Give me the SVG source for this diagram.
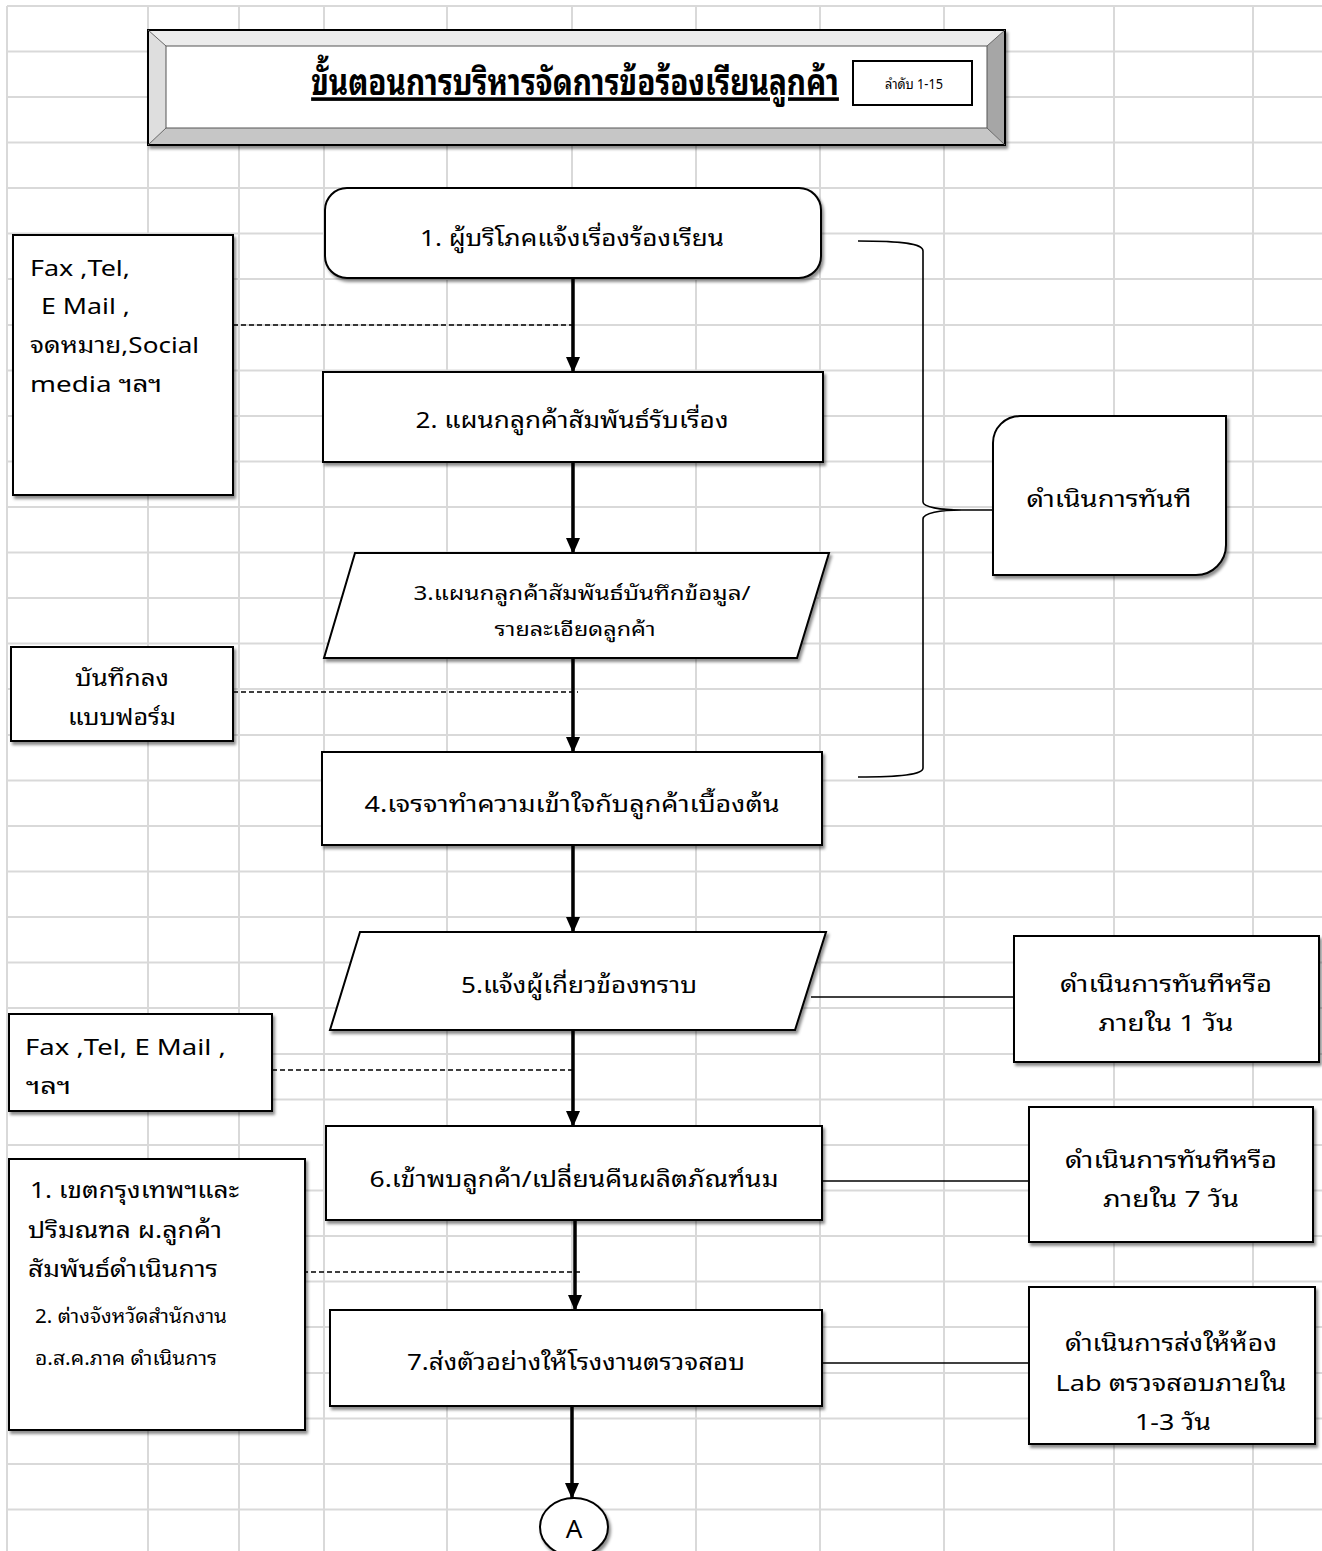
<svg xmlns="http://www.w3.org/2000/svg" width="1322" height="1551" viewBox="0 0 1322 1551">
<style>
  .grid line { stroke: #d9d9d9; stroke-width: 2; }
  .box { fill: #ffffff; stroke: #000000; stroke-width: 2; filter: url(#shadow); }
  .t { font-family: 'Noto Sans Thai Looped', Loma, Garuda, Waree, Tahoma, 'Noto Sans Thai', 'Noto Sans', 'DejaVu Sans', sans-serif; font-size: 22px; fill: #000000; }
  .c { text-anchor: middle; }
  .flow { stroke: #000000; stroke-width: 3.5; fill: none; marker-end: url(#arrow); }
  .dash { stroke: #000000; stroke-width: 1.3; stroke-dasharray: 5 3; fill: none; }
  .thin { stroke: #000000; stroke-width: 1.6; fill: none; }
</style>
<defs>
  <filter id="shadow" x="-10%" y="-10%" width="130%" height="130%">
    <feDropShadow dx="2" dy="3" stdDeviation="1.6" flood-color="#000000" flood-opacity="0.45"/>
  </filter>
  <marker id="arrow" markerUnits="userSpaceOnUse" markerWidth="16" markerHeight="14" viewBox="0 0 16 14" refX="15" refY="7" orient="auto">
    <path d="M0,0 L16,7 L0,14 Z" fill="#000000"/>
  </marker>
</defs>
<rect x="0" y="0" width="1322" height="1551" fill="#ffffff"/>
<g class="grid">
  <line x1="7" y1="6" x2="7" y2="1551"/>
  <line x1="148" y1="6" x2="148" y2="1551"/>
  <line x1="239" y1="6" x2="239" y2="1551"/>
  <line x1="324" y1="6" x2="324" y2="1551"/>
  <line x1="447" y1="6" x2="447" y2="1551"/>
  <line x1="572" y1="6" x2="572" y2="1551"/>
  <line x1="696" y1="6" x2="696" y2="1551"/>
  <line x1="820" y1="6" x2="820" y2="1551"/>
  <line x1="944" y1="6" x2="944" y2="1551"/>
  <line x1="1114" y1="6" x2="1114" y2="1551"/>
  <line x1="1253" y1="6" x2="1253" y2="1551"/>
  <line x1="7" y1="6" x2="1322" y2="6"/>
  <line x1="7" y1="51.5" x2="1322" y2="51.5"/>
  <line x1="7" y1="97" x2="1322" y2="97"/>
  <line x1="7" y1="142.5" x2="1322" y2="142.5"/>
  <line x1="7" y1="188" x2="1322" y2="188"/>
  <line x1="7" y1="233.5" x2="1322" y2="233.5"/>
  <line x1="7" y1="279" x2="1322" y2="279"/>
  <line x1="7" y1="325" x2="1322" y2="325"/>
  <line x1="7" y1="370.5" x2="1322" y2="370.5"/>
  <line x1="7" y1="416" x2="1322" y2="416"/>
  <line x1="7" y1="461.5" x2="1322" y2="461.5"/>
  <line x1="7" y1="507" x2="1322" y2="507"/>
  <line x1="7" y1="552.5" x2="1322" y2="552.5"/>
  <line x1="7" y1="598" x2="1322" y2="598"/>
  <line x1="7" y1="643.5" x2="1322" y2="643.5"/>
  <line x1="7" y1="689" x2="1322" y2="689"/>
  <line x1="7" y1="735" x2="1322" y2="735"/>
  <line x1="7" y1="780.5" x2="1322" y2="780.5"/>
  <line x1="7" y1="826" x2="1322" y2="826"/>
  <line x1="7" y1="871.5" x2="1322" y2="871.5"/>
  <line x1="7" y1="917" x2="1322" y2="917"/>
  <line x1="7" y1="962.5" x2="1322" y2="962.5"/>
  <line x1="7" y1="1008" x2="1322" y2="1008"/>
  <line x1="7" y1="1054" x2="1322" y2="1054"/>
  <line x1="7" y1="1099.5" x2="1322" y2="1099.5"/>
  <line x1="7" y1="1145" x2="1322" y2="1145"/>
  <line x1="7" y1="1190.5" x2="1322" y2="1190.5"/>
  <line x1="7" y1="1236" x2="1322" y2="1236"/>
  <line x1="7" y1="1281.5" x2="1322" y2="1281.5"/>
  <line x1="7" y1="1327" x2="1322" y2="1327"/>
  <line x1="7" y1="1373" x2="1322" y2="1373"/>
  <line x1="7" y1="1418.5" x2="1322" y2="1418.5"/>
  <line x1="7" y1="1464" x2="1322" y2="1464"/>
  <line x1="7" y1="1509.5" x2="1322" y2="1509.5"/>
</g>

<g id="title">
  <g filter="url(#shadow)">
    <rect x="148" y="30" width="857" height="115" fill="#ffffff"/>
    <polygon points="148,30 1005,30 987,46 166,46" fill="#ececec"/>
    <polygon points="148,30 166,46 166,128 148,145" fill="#dedede"/>
    <polygon points="1005,30 1005,145 987,128 987,46" fill="#a6a6a6"/>
    <polygon points="148,145 166,128 987,128 1005,145" fill="#c6c6c6"/>
    <rect x="148" y="30" width="857" height="115" fill="none" stroke="#000000" stroke-width="2"/>
    <rect x="166" y="46" width="821" height="82" fill="#ffffff" stroke="#555555" stroke-width="1"/>
    <path d="M148,30 L166,46 M1005,30 L987,46 M148,145 L166,128 M1005,145 L987,128" stroke="#666666" stroke-width="1"/>
  </g>
  <text class="t c" transform="translate(575,95) scale(0.72,1)" x="0" y="0" style="font-size:36px;font-weight:bold" text-decoration="underline" textLength="733" lengthAdjust="spacingAndGlyphs">ขั้นตอนการบริหารจัดการข้อร้องเรียนลูกค้า</text>
</g>
<g id="order">
  <rect x="853" y="61" width="119" height="44" fill="#ffffff" stroke="#000000" stroke-width="2"/>
  <text class="t c" x="914" y="89" style="font-size:14px" textLength="58" lengthAdjust="spacingAndGlyphs">ลำดับ 1-15</text>
</g>

<g id="connectors">
  <line class="flow" x1="573" y1="279" x2="573" y2="372"/>
  <line class="flow" x1="573" y1="462" x2="573" y2="553"/>
  <line class="flow" x1="573" y1="659" x2="573" y2="752"/>
  <line class="flow" x1="573" y1="846" x2="573" y2="932"/>
  <line class="flow" x1="573" y1="1031" x2="573" y2="1126"/>
  <line class="flow" x1="575" y1="1221" x2="575" y2="1310"/>
  <line class="flow" x1="572" y1="1406" x2="572" y2="1498"/>
  <line class="dash" x1="233" y1="325" x2="573" y2="325"/>
  <line class="dash" x1="233" y1="692" x2="578" y2="692"/>
  <line class="dash" x1="272" y1="1070" x2="572" y2="1070"/>
  <line class="dash" x1="303" y1="1272" x2="581" y2="1272"/>
  <line class="thin" x1="811" y1="997" x2="1014" y2="997"/>
  <line class="thin" x1="822" y1="1181" x2="1029" y2="1181"/>
  <line class="thin" x1="822" y1="1363" x2="1029" y2="1363"/>
  <path class="thin" d="M858,241 C905,241 923,244 923,251 L923,502 C923,507 940,510 962,510 L993,510 M962,510 C940,510 923,513 923,519 L923,768 C923,774 905,777 858,777"/>
</g>

<g id="n1">
  <rect class="box" x="325" y="188" width="496" height="90" rx="22" ry="22"/>
  <text class="t c" x="572" y="246" textLength="304" lengthAdjust="spacingAndGlyphs">1. ผู้บริโภคแจ้งเรื่องร้องเรียน</text>
</g>
<g id="n2">
  <rect class="box" x="323" y="372" width="500" height="90"/>
  <text class="t c" x="572" y="428" textLength="313" lengthAdjust="spacingAndGlyphs">2. แผนกลูกค้าสัมพันธ์รับเรื่อง</text>
</g>
<g id="n3">
  <polygon class="box" points="355,553 829,553 797,658 324,658"/>
  <text class="t c" x="582" y="600" style="font-size:19px" textLength="337" lengthAdjust="spacingAndGlyphs">3.แผนกลูกค้าสัมพันธ์บันทึกข้อมูล/</text>
  <text class="t c" x="575" y="636" style="font-size:19px" textLength="161" lengthAdjust="spacingAndGlyphs">รายละเอียดลูกค้า</text>
</g>
<g id="n4">
  <rect class="box" x="322" y="752" width="500" height="93"/>
  <text class="t c" x="572" y="812" textLength="415" lengthAdjust="spacingAndGlyphs">4.เจรจาทำความเข้าใจกับลูกค้าเบื้องต้น</text>
</g>
<g id="n5">
  <polygon class="box" points="360,932 826,932 795,1030 330,1030"/>
  <text class="t c" x="579" y="993" textLength="236" lengthAdjust="spacingAndGlyphs">5.แจ้งผู้เกี่ยวข้องทราบ</text>
</g>
<g id="n6">
  <rect class="box" x="326" y="1126" width="496" height="94"/>
  <text class="t c" x="574" y="1187" textLength="409" lengthAdjust="spacingAndGlyphs">6.เข้าพบลูกค้า/เปลี่ยนคืนผลิตภัณฑ์นม</text>
</g>
<g id="n7">
  <rect class="box" x="330" y="1310" width="492" height="96"/>
  <text class="t c" x="576" y="1370" textLength="338" lengthAdjust="spacingAndGlyphs">7.ส่งตัวอย่างให้โรงงานตรวจสอบ</text>
</g>
<g id="nA">
  <ellipse class="box" cx="574" cy="1527" rx="34" ry="29"/>
  <text class="t c" x="574" y="1538" style="font-size:26px">A</text>
</g>

<g id="left1">
  <rect class="box" x="13" y="235" width="220" height="260"/>
  <text class="t" x="30" y="276" textLength="100" lengthAdjust="spacingAndGlyphs">Fax ,Tel,</text>
  <text class="t" x="41" y="314" textLength="89" lengthAdjust="spacingAndGlyphs">E Mail ,</text>
  <text class="t" x="30" y="353" textLength="169" lengthAdjust="spacingAndGlyphs">จดหมาย,Social</text>
  <text class="t" x="30" y="392" textLength="132" lengthAdjust="spacingAndGlyphs">media ฯลฯ</text>
</g>
<g id="left2">
  <rect class="box" x="11" y="647" width="222" height="94"/>
  <text class="t c" x="122" y="686" textLength="94" lengthAdjust="spacingAndGlyphs">บันทึกลง</text>
  <text class="t c" x="122" y="725" textLength="108" lengthAdjust="spacingAndGlyphs">แบบฟอร์ม</text>
</g>
<g id="left3">
  <rect class="box" x="9" y="1014" width="263" height="97"/>
  <text class="t" x="25" y="1055" textLength="201" lengthAdjust="spacingAndGlyphs">Fax ,Tel, E Mail ,</text>
  <text class="t" x="26" y="1094" textLength="45" lengthAdjust="spacingAndGlyphs">ฯลฯ</text>
</g>
<g id="left4">
  <rect class="box" x="9" y="1159" width="296" height="271"/>
  <text class="t" x="30" y="1198" textLength="209" lengthAdjust="spacingAndGlyphs">1. เขตกรุงเทพฯและ</text>
  <text class="t" x="28" y="1238" textLength="194" lengthAdjust="spacingAndGlyphs">ปริมณฑล ผ.ลูกค้า</text>
  <text class="t" x="28" y="1277" textLength="190" lengthAdjust="spacingAndGlyphs">สัมพันธ์ดำเนินการ</text>
  <text class="t" x="35" y="1323" style="font-size:19px" textLength="192" lengthAdjust="spacingAndGlyphs">2. ต่างจังหวัดสำนักงาน</text>
  <text class="t" x="35" y="1365" style="font-size:19px" textLength="182" lengthAdjust="spacingAndGlyphs">อ.ส.ค.ภาค ดำเนินการ</text>
</g>

<g id="brace-note">
  <path class="box" d="M1020,416 L1226,416 L1226,545 A30,30 0 0 1 1196,575 L993,575 L993,443 A27,27 0 0 1 1020,416 Z"/>
  <text class="t c" x="1109" y="507" textLength="165" lengthAdjust="spacingAndGlyphs">ดำเนินการทันที</text>
</g>
<g id="right1">
  <rect class="box" x="1014" y="936" width="305" height="126"/>
  <text class="t c" x="1166" y="992" textLength="212" lengthAdjust="spacingAndGlyphs">ดำเนินการทันทีหรือ</text>
  <text class="t c" x="1166" y="1031" textLength="135" lengthAdjust="spacingAndGlyphs">ภายใน 1 วัน</text>
</g>
<g id="right2">
  <rect class="box" x="1029" y="1107" width="284" height="135"/>
  <text class="t c" x="1171" y="1168" textLength="212" lengthAdjust="spacingAndGlyphs">ดำเนินการทันทีหรือ</text>
  <text class="t c" x="1171" y="1207" textLength="136" lengthAdjust="spacingAndGlyphs">ภายใน 7 วัน</text>
</g>
<g id="right3">
  <rect class="box" x="1029" y="1287" width="286" height="157"/>
  <text class="t c" x="1171" y="1351" textLength="212" lengthAdjust="spacingAndGlyphs">ดำเนินการส่งให้ห้อง</text>
  <text class="t c" x="1171" y="1391" textLength="231" lengthAdjust="spacingAndGlyphs">Lab ตรวจสอบภายใน</text>
  <text class="t c" x="1173" y="1430" textLength="76" lengthAdjust="spacingAndGlyphs">1-3 วัน</text>
</g>
</svg>
